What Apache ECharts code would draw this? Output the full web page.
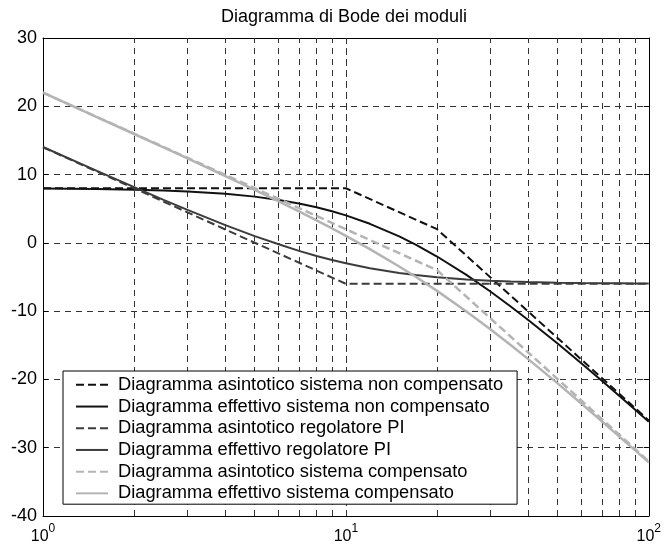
<!DOCTYPE html>
<html>
<head>
<meta charset="utf-8">
<title>Diagramma di Bode dei moduli</title>
<script src="https://cdn.jsdelivr.net/npm/echarts@6/dist/echarts.min.js"></script>
<style>
  html, body { margin: 0; padding: 0; background: #fff; }
  #chart { width: 664px; height: 545px; }
</style>
</head>
<body>
<div id="chart"></div>
<script>
const freq = [1, 1.5, 2, 2.5, 3, 4, 5, 6, 7, 8, 9, 10, 12, 15, 17, 20, 25, 30, 35, 40, 50, 60, 70, 80, 90, 100]
// moduli in dB
const effNonComp = [7.95, 7.88, 7.79, 7.67, 7.53, 7.19, 6.77, 6.29, 5.77, 5.21, 4.62, 4.02, 2.79, 0.94, -0.26, -2.0, -4.69, -7.12, -9.31, -11.29, -14.75, -17.68, -20.21, -22.43, -24.41, -26.19]
const effPI = [14.04, 10.58, 8.15, 6.3, 4.83, 2.6, 0.99, -0.21, -1.17, -1.92, -2.5, -2.99, -3.71, -4.4, -4.71, -5.03, -5.36, -5.54, -5.66, -5.74, -5.83, -5.88, -5.91, -5.93, -5.95, -5.96]
const effComp = [21.99, 18.45, 15.94, 13.97, 12.36, 9.79, 7.76, 6.08, 4.6, 3.29, 2.12, 1.03, -0.92, -3.46, -4.97, -7.03, -10.05, -12.66, -14.97, -17.03, -20.58, -23.56, -26.12, -28.37, -30.36, -32.15]

// diagrammi asintotici (punti di spezzamento)
const asyNonCompFreq = [1, 10, 20, 100]
const asyNonComp = [8, 8, 2, -26]
const asyPIFreq = [1, 10, 100]
const asyPI = [14, -6, -6]
const asyCompFreq = [1, 10, 20, 100]
const asyComp = [22, 2, -4, -32]

// griglia verticale (decadi e suddivisioni)
const gridFreq = [2, 3, 4, 5, 6, 7, 8, 9, 10, 20, 30, 40, 50, 60, 70, 80, 90]

const names = [
  'Diagramma asintotico sistema non compensato',
  'Diagramma effettivo sistema non compensato',
  'Diagramma asintotico regolatore PI',
  'Diagramma effettivo regolatore PI',
  'Diagramma asintotico sistema compensato',
  'Diagramma effettivo sistema compensato'
]

const FONT = '"Liberation Sans", Arial, Helvetica, sans-serif'
const BLACK = '#111'
const DARK = '#3c3c3c'
const LIGHT = '#b4b4b4'
const DASH = [8, 4]

function pairs(xs, ys) {
  return xs.map((x, i) => [x, ys[i]])
}

function lineSeries(name, xs, ys, color, width, dashed) {
  return {
    name: name,
    type: 'line',
    data: pairs(xs, ys),
    symbol: 'none',
    showSymbol: false,
    lineStyle: {
      color: color,
      width: width,
      type: dashed ? DASH : 'solid'
    },
    itemStyle: { color: color }
  }
}

const chart = echarts.init(document.getElementById('chart'))

const series = [
  lineSeries(names[0], asyNonCompFreq, asyNonComp, BLACK, 2, true),
  lineSeries(names[1], freq, effNonComp, BLACK, 2, false),
  lineSeries(names[2], asyPIFreq, asyPI, DARK, 2, true),
  lineSeries(names[3], freq, effPI, DARK, 2, false),
  lineSeries(names[4], asyCompFreq, asyComp, LIGHT, 2.5, true),
  lineSeries(names[5], freq, effComp, LIGHT, 2.5, false)
]

// linee di griglia verticali tratteggiate
series[0].markLine = {
  silent: true,
  symbol: ['none', 'none'],
  label: { show: false },
  emphasis: { disabled: true },
  lineStyle: { color: '#333', width: 1, type: [6, 5] },
  z: 1,
  data: gridFreq.map(f => ({ xAxis: f }))
}

chart.setOption({
  animation: false,
  backgroundColor: '#fff',
  textStyle: { fontFamily: FONT },
  title: {
    text: 'Diagramma di Bode dei moduli',
    left: 221,
    top: 8,
    padding: 0,
    textStyle: {
      fontFamily: FONT,
      fontSize: 18,
      fontWeight: 'normal',
      color: '#000'
    }
  },
  grid: {
    left: 43,
    right: 13,
    top: 38,
    bottom: 29,
    containLabel: false
  },
  legend: {
    orient: 'vertical',
    left: 63,
    top: 371,
    padding: [3, 14, 0, 12],
    itemGap: 0,
    itemWidth: 32,
    itemHeight: 14,
    backgroundColor: '#fff',
    borderColor: '#000',
    borderWidth: 1,
    borderRadius: 0,
    selectedMode: false,
    data: names,
    // nasconde il simbolo, resta solo il tratto di linea
    itemStyle: { color: 'rgba(0,0,0,0)', borderWidth: 0, opacity: 0 },
    textStyle: {
      fontFamily: FONT,
      fontSize: 18.3,
      color: '#000',
      lineHeight: 21.7,
      padding: [0, 0, 0, 5]
    }
  },
  xAxis: [
    {
      type: 'log',
      logBase: 10,
      min: 1,
      max: 100,
      position: 'bottom',
      axisLine: { show: true, onZero: false, lineStyle: { color: '#000', width: 1 } },
      axisTick: { show: true, inside: true, length: 5, lineStyle: { color: '#000' } },
      splitLine: {
        show: true,
        lineStyle: { color: '#333', width: 1, type: [6, 5] }
      },
      axisLabel: {
        margin: 7,
        color: '#000',
        formatter: function(v) {
          return '{b|10}{s|' + Math.round(Math.log10(v)) + '}'
        },
        rich: {
          b: { fontFamily: FONT, fontSize: 16, lineHeight: 28, color: '#000' },
          s: { fontFamily: FONT, fontSize: 12, lineHeight: 12, verticalAlign: 'top', color: '#000' }
        }
      }
    },
    {
      type: 'log',
      logBase: 10,
      min: 1,
      max: 100,
      position: 'top',
      axisLine: { show: true, onZero: false, lineStyle: { color: '#000', width: 1 } },
      axisTick: { show: true, inside: true, length: 5, lineStyle: { color: '#000' } },
      axisLabel: { show: false },
      splitLine: { show: false }
    }
  ],
  yAxis: [
    {
      type: 'value',
      min: -40,
      max: 30,
      interval: 10,
      position: 'left',
      axisLine: { show: true, onZero: false, lineStyle: { color: '#000', width: 1 } },
      axisTick: { show: true, inside: true, length: 5, lineStyle: { color: '#000' } },
      splitLine: {
        show: true,
        lineStyle: { color: '#333', width: 1, type: [6, 5] }
      },
      axisLabel: {
        margin: 6,
        color: '#000',
        fontFamily: FONT,
        fontSize: 18
      }
    },
    {
      type: 'value',
      min: -40,
      max: 30,
      interval: 10,
      position: 'right',
      axisLine: { show: true, onZero: false, lineStyle: { color: '#000', width: 1 } },
      axisTick: { show: true, inside: true, length: 5, lineStyle: { color: '#000' } },
      axisLabel: { show: false },
      splitLine: { show: false }
    }
  ],
  series: series
})
</script>
</body>
</html>
